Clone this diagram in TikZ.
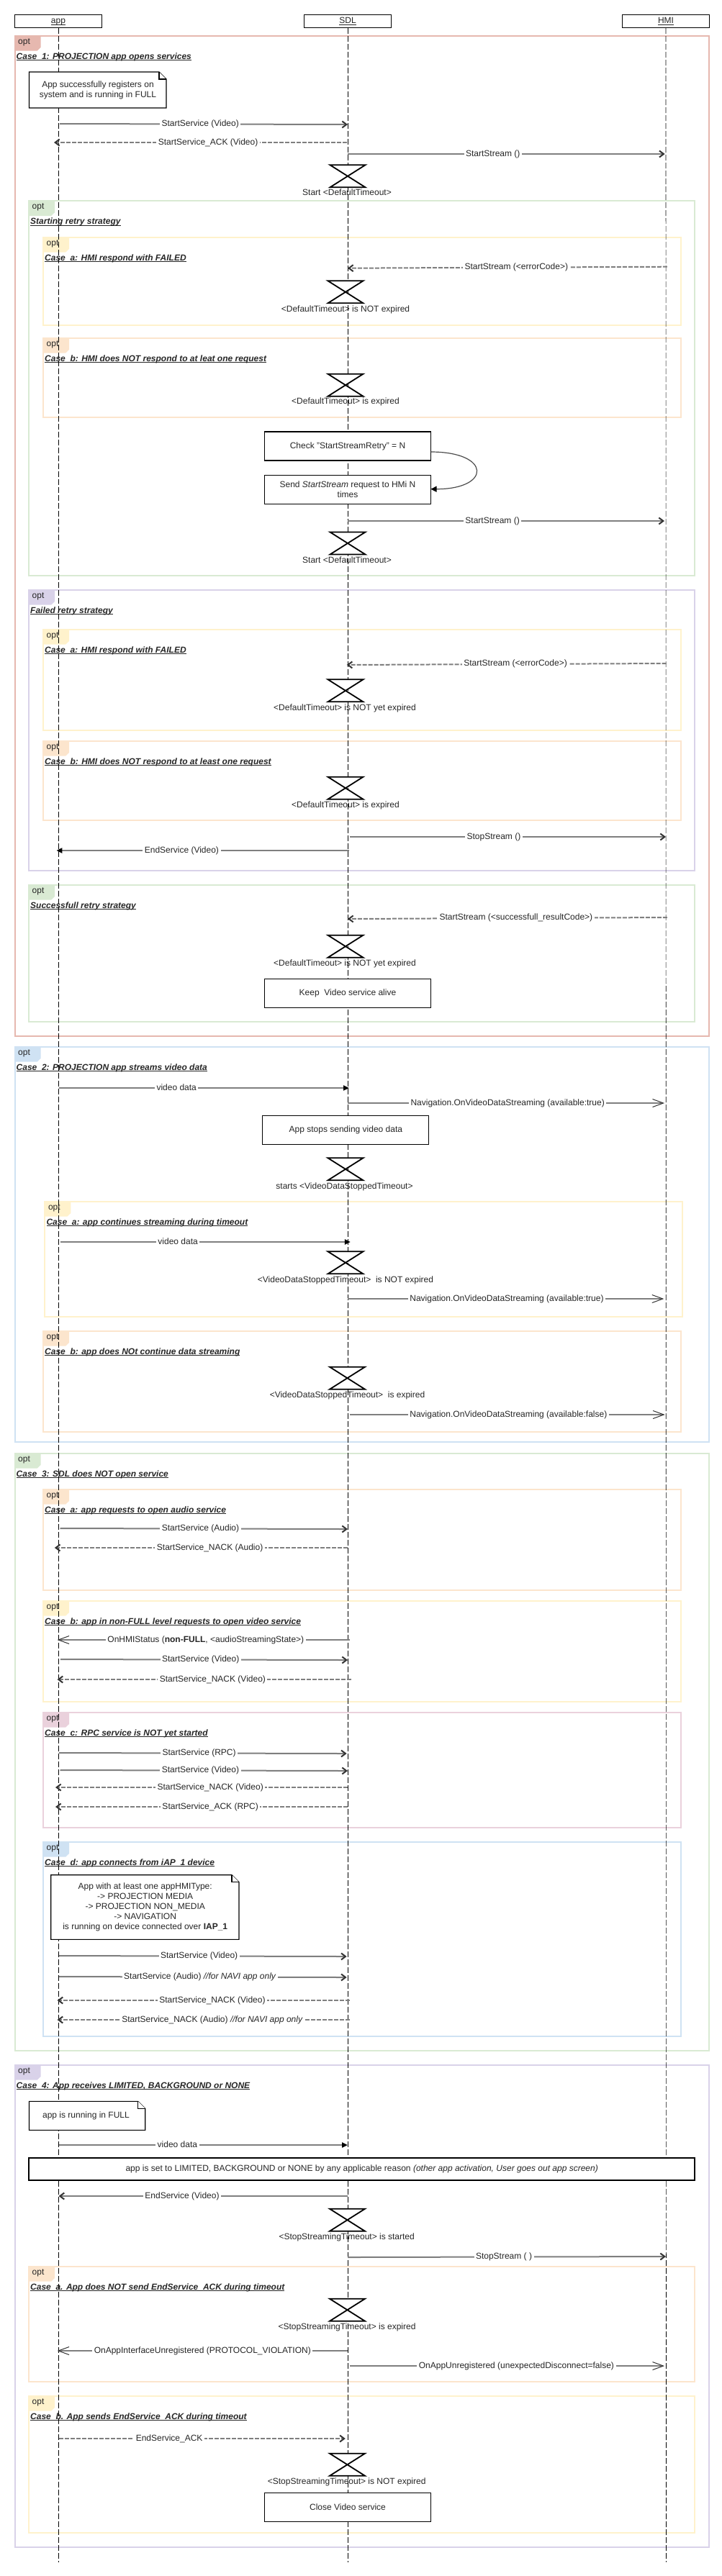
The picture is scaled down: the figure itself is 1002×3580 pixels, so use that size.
\documentclass[tikz,border=0pt]{standalone}
\usepackage{fontspec}
\setmainfont{Liberation Sans}
\usetikzlibrary{arrows.meta}

\definecolor{optred}{HTML}{E6B8AF}
\definecolor{optgreen}{HTML}{D9EAD3}
\definecolor{optyellow}{HTML}{FFF2CC}
\definecolor{optorange}{HTML}{FCE5CD}
\definecolor{optpurple}{HTML}{D9D2E9}
\definecolor{optblue}{HTML}{CFE2F3}
\definecolor{optpink}{HTML}{EAD1DC}
\definecolor{msggray}{HTML}{7F7F7F}
\definecolor{tipgray}{HTML}{333333}

\tikzset{
	every node/.style={font=\fontsize{12}{14}\selectfont, text=black!85},
	headbox/.style={draw=black, line width=1.1pt, fill=white, minimum width=120.5pt, minimum height=18.5pt, inner sep=0pt, text height=9pt, text depth=3pt},
	lifeline/.style={draw=black, line width=0.8pt, dash pattern=on 8pt off 3pt},
	optbox/.style={line width=2pt},
	optlabel/.style={anchor=west, inner sep=0pt, text height=9pt, text depth=3pt},
	casetitle/.style={anchor=west, inner sep=0pt, text height=9pt, text depth=3pt, font=\fontsize{12}{14}\selectfont\bfseries\itshape},
	stepbox/.style={draw=black, line width=1.1pt, fill=white, minimum width=231pt, minimum height=40pt, inner sep=0pt, align=center},
	notebox/.style={draw=black, line width=1.1pt, fill=white, line join=miter},
	notetext/.style={inner sep=0pt, align=center},
	timerline/.style={draw=black, line width=1.8pt, fill=white, line join=miter},
	timertext/.style={inner sep=0pt, text height=9pt, text depth=3pt},
	msglabel/.style={fill=white, inner xsep=2.5pt, inner ysep=0pt, text height=9pt, text depth=3pt},
	syncmsg/.style={draw=msggray, line width=2pt, -{Straight Barb[length=6pt, width=9pt, line width=2pt, color=tipgray]}},
	retmsg/.style={syncmsg, dash pattern=on 6pt off 2pt},
	datamsg/.style={draw=msggray, line width=2pt, -{Triangle[length=8pt, width=7pt, color=black]}},
	openmsg/.style={draw=msggray, line width=2pt, -{Straight Barb[length=15pt, width=11pt, line width=1pt, color=tipgray]}},
	loopmsg/.style={draw=black!70, line width=1.2pt, -{Triangle[length=8pt, width=8pt, color=black]}},
	timer/.pic={\draw[timerline] (-24.5,0) -- (24.5,0) -- (-24.5,31) -- (24.5,31) -- cycle;}
}

%underline with a firm black rule, descenders do not push it down
\newcommand{\ulined}[1]{\vtop{\hbox{\raisebox{0pt}[\height][0pt]{#1}}\kern1.4pt\hrule height 1pt}}

%name, colour, left, top, right, bottom, title
\newcommand{\optframe}[7]{
	\draw[optbox, draw=#2] (#3,#4) rectangle (#5,#6);
	\fill[#2] (#3,#4) -- (#3+36,#4) -- (#3+36,#4+16) -- (#3+31,#4+20.7) -- (#3,#4+20.7) -- cycle;
	\node[optlabel] (#1tab) at (#3+4.5,#4+8) {opt};
	\node[casetitle] (#1title) at (#3+2,#4+29) {\ulined{#7}};
}

\begin{document}
\begin{tikzpicture}[x=1pt,y=-1pt]
	\useasboundingbox (0,0) rectangle (1002,3580);

	%Case 1
	\optframe{caseone}{optred}{20.5}{50}{985}{1439.5}{Case\ \ 1: PROJECTION app opens services}
	\optframe{retry}{optgreen}{40}{279.3}{965.4}{800}{Starting retry strategy}
	\optframe{retrya}{optyellow}{60}{330}{945.5}{452}{Case\ \ a: HMI respond with FAILED}
	\optframe{retryb}{optorange}{60}{470}{945.5}{580}{Case\ \ b: HMI does NOT respond to at leat one request}
	\optframe{failed}{optpurple}{40}{820}{965.4}{1210}{Failed retry strategy}
	\optframe{faileda}{optyellow}{60}{875}{945.5}{1015}{Case\ \ a: HMI respond with FAILED}
	\optframe{failedb}{optorange}{60}{1030}{945.5}{1140}{Case\ \ b: HMI does NOT respond to at least one request}
	\optframe{success}{optgreen}{40}{1230}{965.4}{1420}{Successfull retry strategy}

	%Case 2
	\optframe{casetwo}{optblue}{20.5}{1455}{985}{2004.3}{Case\ \ 2: PROJECTION app streams video data}
	\optframe{streama}{optyellow}{62.3}{1670}{948}{1830}{Case\ \ a: app continues streaming during timeout}
	\optframe{streamb}{optorange}{60}{1850}{945.5}{1990}{Case\ \ b: app does NOt continue data streaming}

	%Case 3
	\optframe{casethree}{optgreen}{20.5}{2020}{985}{2850}{Case\ \ 3: SDL does NOT open service}
	\optframe{opena}{optorange}{60}{2070}{945.5}{2210}{Case\ \ a: app requests to open audio service}
	\optframe{openb}{optyellow}{60}{2225}{945.5}{2365}{Case\ \ b: app in non-FULL level requests to open video service}
	\optframe{openc}{optpink}{60}{2380}{945.5}{2540}{Case\ \ c: RPC service is NOT yet started}
	\optframe{opend}{optblue}{60}{2560}{945.5}{2830}{Case\ \ d: app connects from iAP\_1 device}

	%Case 4
	\optframe{casefour}{optpurple}{20.5}{2870}{985}{3540}{Case\ \ 4: App receives LIMITED, BACKGROUND or NONE}
	\optframe{limita}{optorange}{40}{3150}{965.4}{3310}{Case\ \ a. App does NOT send EndService\_ACK during timeout}
	\optframe{limitb}{optyellow}{40}{3330}{965.4}{3520}{Case\ \ b. App sends EndService\_ACK during timeout}

	%Timer texts, the lifelines run over them
	\node[timertext] (t1) at (482,268.7) {Start <DefaultTimeout>};
	\node[timertext] (t2) at (480,430) {<DefaultTimeout> is NOT expired};
	\node[timertext] (t3) at (480,558.7) {<DefaultTimeout> is expired};
	\node[timertext] (t4) at (482,779) {Start <DefaultTimeout>};
	\node[timertext] (t5) at (479,984) {<DefaultTimeout> is NOT yet expired};
	\node[timertext] (t6) at (480,1119) {<DefaultTimeout> is expired};
	\node[timertext] (t7) at (479,1339) {<DefaultTimeout> is NOT yet expired};
	\node[timertext] (t8) at (478.5,1649) {starts <VideoDataStoppedTimeout>};
	\node[timertext] (t9) at (480,1779) {<VideoDataStoppedTimeout>\ \ is NOT expired};
	\node[timertext] (t10) at (482.5,1939) {<VideoDataStoppedTimeout>\ \ is expired};
	\node[timertext] (t11) at (481.7,3109) {<StopStreamingTimeout> is started};
	\node[timertext] (t12) at (482,3234) {<StopStreamingTimeout> is expired};
	\node[timertext] (t13) at (481.7,3449) {<StopStreamingTimeout> is NOT expired};

	%Lifelines
	\node[headbox] (app) at (81,29.3) {\ulined{app}};
	\node[headbox] (sdl) at (483,29.3) {\ulined{SDL}};
	\node[headbox] (hmi) at (925,29.3) {\ulined{HMI}};
	\coordinate (append) at (81,3560.7);
	\coordinate (sdlend) at (483,3560.7);
	\coordinate (hmiend) at (925.5,3560.7);
	\draw[lifeline] (app) -- (append);
	\draw[lifeline] (sdl) -- (sdlend);
	\draw[lifeline, line width=0.6pt] (hmi) -- (hmiend);

	%Case 1
	\draw[notebox] (40.5,100) -- (221,100) -- (231,110) -- (231,150) -- (40.5,150) -- cycle;
	\draw[notebox] (221,100) -- (221,110) -- (231,110);
	\node[notetext] (note1) at (136,125) {App successfully registers on\\system and is running in FULL};

	\coordinate (m1a) at (83,172); \coordinate (m1b) at (483,173);
	\draw[syncmsg] (m1a) -- node[msglabel, pos=.488] (l1) {StartService (Video)} (m1b);
	\coordinate (m2a) at (482,198); \coordinate (m2b) at (75,198);
	\draw[retmsg] (m2a) -- node[msglabel, pos=.474] (l2) {StartService\_ACK (Video)} (m2b);
	\coordinate (m3a) at (483,214); \coordinate (m3b) at (923.6,214);
	\draw[syncmsg] (m3a) -- node[msglabel, pos=.458] (l3) {StartStream ()} (m3b);
	\pic (h1) at (483,229.3) {timer};

	\coordinate (m4a) at (926.8,370.7); \coordinate (m4b) at (483,372.7);
	\draw[retmsg] (m4a) -- node[msglabel, pos=.472] (l4) {StartStream (<errorCode>)} (m4b);
	\pic (h2) at (480,390.3) {timer};
	\pic (h3) at (480,519.7) {timer};

	\node[stepbox] (check) at (483,620) {Check "StartStreamRetry" = N};
	\node[stepbox] (send) at (483,680.3) {Send \textit{StartStream} request to HMi N\\times};
	\coordinate (loopa) at (598.5,628); \coordinate (loopb) at (598.5,679.7);
	\draw[loopmsg] (loopa) .. controls (682.6,628) and (682.6,679.7) .. (loopb);
	\coordinate (m5a) at (483,724); \coordinate (m5b) at (923,724);
	\draw[syncmsg] (m5a) -- node[msglabel, pos=.457] (l5) {StartStream ()} (m5b);
	\pic (h4) at (483,739.5) {timer};

	\coordinate (m6a) at (925.6,922); \coordinate (m6b) at (481.7,924);
	\draw[retmsg] (m6a) -- node[msglabel, pos=.472] (l6) {StartStream (<errorCode>)} (m6b);
	\pic (h5) at (480,944.3) {timer};
	\pic (h6) at (480,1079.7) {timer};
	\coordinate (m7a) at (485.6,1163); \coordinate (m7b) at (925,1163);
	\draw[syncmsg] (m7a) -- node[msglabel, pos=.456] (l7) {StopStream ()} (m7b);
	\coordinate (m8a) at (485,1182); \coordinate (m8b) at (78.4,1182);
	\draw[datamsg] (m8a) -- node[msglabel, pos=.572] (l8) {EndService (Video)} (m8b);

	\coordinate (m9a) at (926.8,1275); \coordinate (m9b) at (483,1277);
	\draw[retmsg] (m9a) -- node[msglabel, pos=.473] (l9) {StartStream (<successfull\_resultCode>)} (m9b);
	\pic (h7) at (480,1299.7) {timer};
	\node[stepbox] (keep) at (483,1380.3) {Keep\ \ Video service alive};

	%Case 2
	\coordinate (m10a) at (82,1512); \coordinate (m10b) at (485,1512);
	\draw[datamsg] (m10a) -- node[msglabel, pos=.405] (l10) {video data} (m10b);
	\coordinate (m11a) at (483,1533); \coordinate (m11b) at (923,1533);
	\draw[openmsg] (m11a) -- node[msglabel, pos=.505] (l11) {Navigation.OnVideoDataStreaming (available:true)} (m11b);
	\node[stepbox] (stops) at (480.4,1570.3) {App stops sending video data};
	\pic (h8) at (480,1609.3) {timer};

	\coordinate (m12a) at (84,1726); \coordinate (m12b) at (486.9,1726);
	\draw[datamsg] (m12a) -- node[msglabel, pos=.405] (l12) {video data} (m12b);
	\pic (h9) at (480,1739.3) {timer};
	\coordinate (m13a) at (483,1805); \coordinate (m13b) at (922.3,1805);
	\draw[openmsg] (m13a) -- node[msglabel, pos=.503] (l13) {Navigation.OnVideoDataStreaming (available:true)} (m13b);

	\pic (h10) at (482.5,1899.7) {timer};
	\coordinate (m14a) at (485.6,1966); \coordinate (m14b) at (923.6,1966);
	\draw[openmsg] (m14a) -- node[msglabel, pos=.504] (l14) {Navigation.OnVideoDataStreaming (available:false)} (m14b);

	%Case 3
	\coordinate (m15a) at (83.5,2124); \coordinate (m15b) at (483,2125);
	\draw[syncmsg] (m15a) -- node[msglabel, pos=.488] (l15) {StartService (Audio)} (m15b);
	\coordinate (m16a) at (483,2151); \coordinate (m16b) at (75.8,2151);
	\draw[retmsg] (m16a) -- node[msglabel, pos=.47] (l16) {StartService\_NACK (Audio)} (m16b);

	\coordinate (m17a) at (485.6,2279); \coordinate (m17b) at (79.6,2279);
	\draw[openmsg] (m17a) -- node[msglabel, pos=.492] (l17) {OnHMIStatus (\textbf{non-FULL}, <audioStreamingState>)} (m17b);
	\coordinate (m18a) at (84,2306); \coordinate (m18b) at (483,2307);
	\draw[syncmsg] (m18a) -- node[msglabel, pos=.488] (l18) {StartService (Video)} (m18b);
	\coordinate (m19a) at (487.5,2334); \coordinate (m19b) at (79.6,2334);
	\draw[retmsg] (m19a) -- node[msglabel, pos=.471] (l19) {StartService\_NACK (Video)} (m19b);

	\coordinate (m20a) at (82,2436); \coordinate (m20b) at (481.7,2437);
	\draw[syncmsg] (m20a) -- node[msglabel, pos=.487] (l20) {StartService (RPC)} (m20b);
	\coordinate (m21a) at (83.5,2460); \coordinate (m21b) at (483,2461);
	\draw[syncmsg] (m21a) -- node[msglabel, pos=.488] (l21) {StartService (Video)} (m21b);
	\coordinate (m22a) at (483,2484); \coordinate (m22b) at (77,2484);
	\draw[retmsg] (m22a) -- node[msglabel, pos=.47] (l22) {StartService\_NACK (Video)} (m22b);
	\coordinate (m23a) at (483,2511); \coordinate (m23b) at (77,2511);
	\draw[retmsg] (m23a) -- node[msglabel, pos=.47] (l23) {StartService\_ACK (RPC)} (m23b);

	\draw[notebox] (70.7,2605.7) -- (322,2605.7) -- (332,2615.7) -- (332,2695.3) -- (70.7,2695.3) -- cycle;
	\draw[notebox] (322,2605.7) -- (322,2615.7) -- (332,2615.7);
	\node[notetext] (note2) at (201.7,2650) {App with at least one appHMIType:\\-> PROJECTION MEDIA\\-> PROJECTION NON\_MEDIA\\-> NAVIGATION\\is running on device connected over \textbf{IAP\_1}};

	\coordinate (m24a) at (82,2718); \coordinate (m24b) at (481.7,2719);
	\draw[syncmsg] (m24a) -- node[msglabel, pos=.487] (l24) {StartService (Video)} (m24b);
	\coordinate (m25a) at (82,2747); \coordinate (m25b) at (481.7,2748);
	\draw[syncmsg] (m25a) -- node[msglabel, pos=.49] (l25) {StartService (Audio) \textit{//for NAVI app only}} (m25b);
	\coordinate (m26a) at (486,2780); \coordinate (m26b) at (79.6,2780);
	\draw[retmsg] (m26a) -- node[msglabel, pos=.47] (l26) {StartService\_NACK (Video)} (m26b);
	\coordinate (m27a) at (486,2807); \coordinate (m27b) at (79.6,2807);
	\draw[retmsg] (m27a) -- node[msglabel, pos=.47] (l27) {StartService\_NACK (Audio) \textit{//for NAVI app only}} (m27b);

	%Case 4
	\draw[notebox] (40.5,2920.3) -- (191.7,2920.3) -- (201.7,2930.3) -- (201.7,2960.3) -- (40.5,2960.3) -- cycle;
	\draw[notebox] (191.7,2920.3) -- (191.7,2930.3) -- (201.7,2930.3);
	\node[notetext] (note3) at (119.5,2940) {app is running in FULL};
	\coordinate (m28a) at (82,2981); \coordinate (m28b) at (483,2981);
	\draw[datamsg] (m28a) -- node[msglabel, pos=.41] (l28) {video data} (m28b);
	\node[stepbox, line width=2pt, minimum width=925.4pt, minimum height=30.7pt] (limited) at (502.7,3014.7) {app is set to LIMITED, BACKGROUND or NONE by any applicable reason \textit{(other app activation, User goes out app screen)}};

	\coordinate (m29a) at (483,3052); \coordinate (m29b) at (81.6,3052);
	\draw[syncmsg] (m29a) -- node[msglabel, pos=.573] (l29) {EndService (Video)} (m29b);
	\pic (h11) at (482.5,3069.7) {timer};
	\coordinate (m30a) at (483,3137); \coordinate (m30b) at (925,3136);
	\draw[syncmsg] (m30a) -- node[msglabel, pos=.491] (l30) {StopStream ( )} (m30b);

	\pic (h12) at (482.5,3194.7) {timer};
	\coordinate (m31a) at (483,3267); \coordinate (m31b) at (79.6,3267);
	\draw[openmsg] (m31a) -- node[msglabel, pos=.5] (l31) {OnAppInterfaceUnregistered (PROTOCOL\_VIOLATION)} (m31b);
	\coordinate (m32a) at (485.6,3288); \coordinate (m32b) at (923,3288);
	\draw[openmsg] (m32a) -- node[msglabel, pos=.53] (l32) {OnAppUnregistered (unexpectedDisconnect=false)} (m32b);

	\coordinate (m33a) at (82,3389); \coordinate (m33b) at (479.8,3389);
	\draw[retmsg] (m33a) -- node[msglabel, pos=.385] (l33) {EndService\_ACK} (m33b);
	\pic (h13) at (482.5,3409.7) {timer};
	\node[stepbox] (close) at (483,3484.3) {Close Video service};
\end{tikzpicture}
\end{document}
